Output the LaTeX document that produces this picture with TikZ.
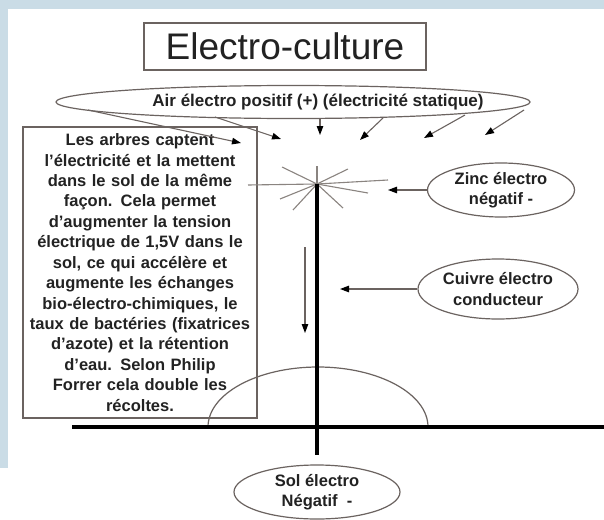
\documentclass[tikz,border=0pt]{standalone}
\usepackage{fontspec}
\setmainfont{Liberation Sans}
\usetikzlibrary{shapes.geometric,arrows.meta}
\definecolor{bandblue}{HTML}{CADCE6}
\definecolor{linegray}{HTML}{6B6360}
\definecolor{raygray}{HTML}{8A8480}
\definecolor{inkc}{HTML}{222222}
\begin{document}
\begin{tikzpicture}[x=1pt,y=-1pt,
  lbl/.style={font=\bfseries\fontsize{16.5}{20.4}\selectfont, text=inkc},
  oval/.style={ellipse, draw=linegray, line width=1.2pt, inner sep=0pt, align=center, lbl},
  arr/.style={draw=linegray, line width=1.1pt, -{Triangle[length=9pt,width=6.5pt,color=black]}},
  ray/.style={draw=raygray, line width=1.1pt},
  thick bar/.style={draw=black, line width=4.5pt}]
\useasboundingbox (0,0) rectangle (604,519);
\fill[white] (0,0) rectangle (604,519);
\fill[bandblue] (0,0) rectangle (604,9);
\fill[bandblue] (0,0) rectangle (8,468);

% title
\node[draw=linegray, line width=1.2pt, minimum width=282pt, minimum height=47pt,
  inner sep=0pt, font=\fontsize{37}{40}\selectfont, text=inkc] (title) at (285,46.5) {Electro-culture};

% top ellipse
\node[oval, minimum width=474pt, minimum height=33pt] (air) at (293,102) {};
\node[lbl, font=\bfseries\fontsize{17}{20}\selectfont, inner sep=0pt] (airtext) at (318,102)
  {Air électro positif (+) (électricité statique)};

% text box
\node[draw=linegray, line width=1.2pt, minimum width=234pt, minimum height=291pt,
  text width=230pt, inner sep=2pt, align=center, lbl] (trees) at (140,272.5)
  {Les arbres captent\\
   l'électricité et la mettent\\
   dans le sol de la même\\
   façon. Cela permet\\
   d'augmenter la tension\\
   électrique de 1,5V dans le\\
   sol, ce qui accélère et\\
   augmente les échanges\\
   bio-électro-chimiques, le\\
   taux de bactéries (fixatrices\\
   d'azote) et la rétention\\
   d'eau. Selon Philip\hspace{22pt}\\
   Forrer cela double les\\
   récoltes.};

% side ellipses
\node[oval, minimum width=147pt, minimum height=54pt] (zinc) at (501,190) {Zinc électro\\négatif -};
\node[oval, minimum width=160pt, minimum height=60pt] (cuivre) at (498,289) {Cuivre électro\\conducteur};
\node[oval, minimum width=166pt, minimum height=54pt] (sol) at (317,492) {Sol électro\\Négatif\ \ -};

% arrows from the air ellipse
\coordinate (a1s) at (88,110);  \coordinate (a1e) at (241,143);
\coordinate (a2s) at (215,117); \coordinate (a2e) at (281,139);
\coordinate (a3s) at (320,119); \coordinate (a3e) at (320,135);
\coordinate (a4s) at (383,118); \coordinate (a4e) at (360,140);
\coordinate (a5s) at (465,115); \coordinate (a5e) at (424,138);
\coordinate (a6s) at (524,110); \coordinate (a6e) at (485,135);
\foreach \i in {1,...,6} { \draw[arr] (a\i s) -- (a\i e); }

% zinc and cuivre arrows
\coordinate (zt) at (388,190);
\draw[arr] (zinc.west) -- (zt);
\coordinate (ct) at (340,289);
\draw[arr] (cuivre.west) -- (ct);

% thin downward arrow
\coordinate (vs) at (305,247); \coordinate (ve) at (305,333);
\draw[arr] (vs) -- (ve);

% half ellipse in the soil
\coordinate (hl) at (208,427);
\draw[linegray, line width=1.2pt] (hl) arc[start angle=180, end angle=360, x radius=110, y radius=60];

% star of rays
\coordinate (sc) at (317,184);
\foreach \p in {(248,185),(388,180),(317,166),(282,167),(348,169),(280,199),(293,210),(343,208),(368,193)}
  { \draw[ray] (sc) -- \p; }

% ground and rod
\coordinate (gl) at (72,427); \coordinate (gr) at (604,427);
\draw[draw=black, line width=4pt] (gl) -- (gr);
\coordinate (bt) at (317,184); \coordinate (bb) at (317,455);
\draw[thick bar] (bt) -- (bb);
\end{tikzpicture}
\end{document}
